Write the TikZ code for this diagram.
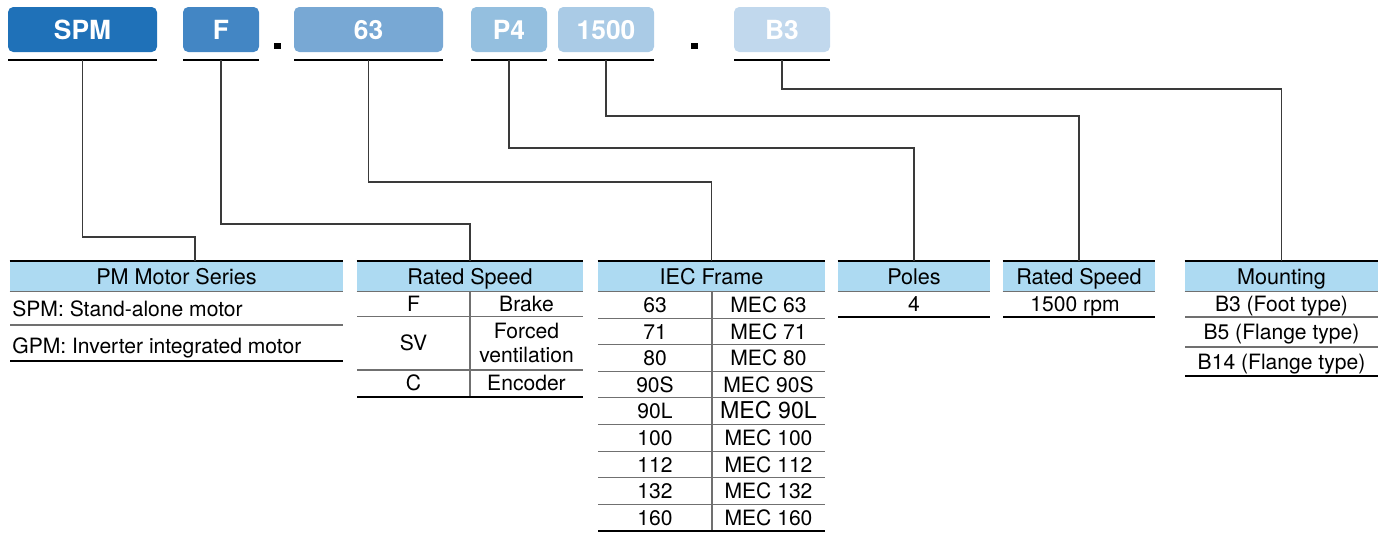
\documentclass[tikz,border=0pt]{standalone}
\usepackage{fontspec}
\setmainfont{TeX Gyre Heros}
\usetikzlibrary{calc}

\definecolor{codeA}{HTML}{1F71B8}
\definecolor{codeB}{HTML}{4386C4}
\definecolor{codeC}{HTML}{78A8D4}
\definecolor{codeD}{HTML}{94BFDF}
\definecolor{codeE}{HTML}{AACBE6}
\definecolor{codeF}{HTML}{C1D8ED}
\definecolor{headblue}{HTML}{ADDAF2}
\definecolor{wiregray}{HTML}{3A3A3A}
\definecolor{rowgray}{HTML}{707070}

\tikzset{
  codebox/.style={rounded corners=3pt, inner sep=0pt, minimum height=0.9cm, text=white,
    text height=10.9pt, text depth=0pt, font=\bfseries\fontsize{15}{18}\selectfont},
  head/.style={fill=headblue, inner sep=0pt, minimum height=0.61cm, text height=8.9pt,
    text depth=0pt, font=\fontsize{12.3}{14}\selectfont},
  cell/.style={inner sep=0pt, text height=8.7pt, text depth=0pt, font=\fontsize{12}{14}\selectfont},
  wire/.style={draw=wiregray, line width=0.6pt},
  heavy/.style={draw=black, line width=1.1pt},
  rowline/.style={draw=rowgray, line width=0.6pt},
  dotmark/.style={fill=black, inner sep=0pt, minimum width=0.14cm, minimum height=0.12cm}
}

\begin{document}
\begin{tikzpicture}[x=0.02cm, y=-0.02cm]
      \useasboundingbox (0,0) rectangle (1389,532);

      % code boxes with their underlines
      \foreach \name/\xa/\xb/\col/\txt in {spm/8/157/codeA/SPM, brk/183/259/codeB/F,
          frame/294/443/codeC/63, poles/471/547/codeD/P4, speed/558/654/codeE/1500,
          mount/734/830/codeF/B3} {
          \node[codebox, fill=\col, minimum width={(\xb-\xa)*0.02cm}] (\name) at ({(\xa+\xb)/2},29.5) {\txt};
          \draw[heavy] (\xa,60) -- (\xb,60);
          \coordinate (u\name) at ({(\xa+\xb)/2},60);
      }

      \node[dotmark] (dotA) at (277,46) {};
      \node[dotmark] (dotB) at (694,46) {};

      % table headers
      \node[head, minimum width=6.66cm] (hSeries) at (176.5,276.25) {PM Motor Series};
      \node[head, minimum width=4.52cm] (hBrake) at (470,276.25) {Rated Speed};
      \node[head, minimum width=4.54cm] (hFrame) at (711.5,276.25) {IEC Frame};
      \node[head, minimum width=3.04cm] (hPoles) at (914,276.25) {Poles};
      \node[head, minimum width=3.04cm] (hSpeed) at (1079,276.25) {Rated Speed};
      \node[head, minimum width=3.86cm] (hMount) at (1281.5,276.25) {Mounting};

      \foreach \h in {hSeries, hBrake, hFrame, hPoles, hSpeed, hMount} {
          \draw[heavy] (\h.north west) -- (\h.north east);
          \draw[rowline] (\h.south west) -- (\h.south east);
      }

      % connectors
      \coordinate (tSeries) at (195,261);
      \draw[wire] (uspm) -- ++(0,177) -| (tSeries);
      \draw[wire] (ubrk) -- ++(0,164) -| (hBrake.north);
      \draw[wire] (uframe) -- ++(0,122) -| (hFrame.north);
      \draw[wire] (upoles) -- ++(0,88) -| (hPoles.north);
      \draw[wire] (uspeed) -- ++(0,56) -| (hSpeed.north);
      \draw[wire] (umount) -- ++(0,29) -| (hMount.north);

      % PM Motor Series
      \node[cell, anchor=west] (sA) at (12,309) {SPM: Stand-alone motor};
      \node[cell, anchor=west] (sB) at (12,346) {GPM: Inverter integrated motor};
      \draw[rowline] (10,325) -- (343,325);
      \draw[heavy] (10,361) -- (343,361);

      % Rated Speed (options)
      \node[cell] (bA) at (413.5,304) {F};
      \node[cell] (bB) at (526.5,304) {Brake};
      \node[cell] (bC) at (413.5,343) {SV};
      \node[inner sep=0pt, align=center, font=\fontsize{12}{14}\selectfont] (bD) at (526.5,343) {Forced\\ventilation};
      \node[cell] (bE) at (413.5,383) {C};
      \node[cell] (bF) at (526.5,383) {Encoder};
      \draw[rowline] (357,316.7) -- (583,316.7);
      \draw[rowline] (357,370) -- (583,370);
      \draw[rowline] (470,291.5) -- (470,396.7);
      \draw[heavy] (357,396.7) -- (583,396.7);

      % IEC Frame
      \foreach \a/\b [count=\i] in {63/MEC 63, 71/MEC 71, 80/MEC 80, 90S/MEC 90S,
          90L/{\fontsize{13.2}{15}\selectfont MEC 90L}, 100/MEC 100, 112/MEC 112,
          132/MEC 132, 160/MEC 160} {
          \node[cell] (fa\i) at (655,{291.5+26.6*\i-13.3}) {\a};
          \node[cell] (fb\i) at (768.5,{291.5+26.6*\i-13.3}) {\b};
      }
      \foreach \i in {1,...,8} {
          \draw[rowline] (598,{291.5+26.6*\i}) -- (825,{291.5+26.6*\i});
      }
      \draw[rowline] (712,291.5) -- (712,531);
      \draw[heavy] (598,531) -- (825,531);

      % Poles
      \node[cell] (pA) at (914,304) {4};
      \draw[heavy] (838,317) -- (990,317);

      % Rated Speed (rpm)
      \node[cell] (rA) at (1075,304) {1500 rpm};
      \draw[heavy] (1003,317) -- (1155,317);

      % Mounting
      \node[cell] (mA) at (1281.5,304) {B3 (Foot type)};
      \node[cell] (mB) at (1281.5,332) {B5 (Flange type)};
      \node[cell] (mC) at (1281.5,361.5) {B14 (Flange type)};
      \draw[rowline] (1185,317) -- (1378,317);
      \draw[rowline] (1185,347) -- (1378,347);
      \draw[heavy] (1185,376) -- (1378,376);
    \end{tikzpicture}
\end{document}
